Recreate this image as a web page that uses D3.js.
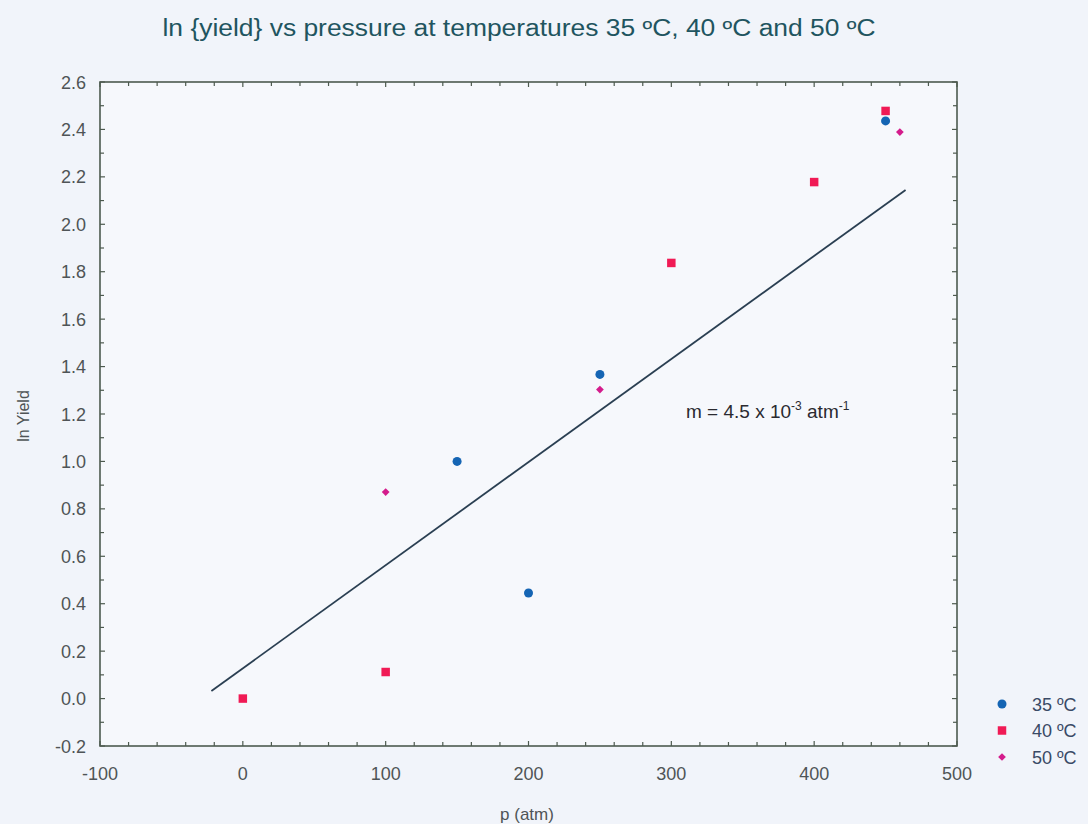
<!DOCTYPE html>
<html>
<head>
<meta charset="utf-8">
<script src="https://cdn.jsdelivr.net/npm/d3@7"></script>
<style>
  body { margin: 0; background: #f1f4fa; }
  svg { display: block; font-family: "Liberation Sans", Arial, sans-serif; }
</style>
</head>
<body>
<svg id="chart" width="1088" height="824"></svg>
<script>
// data
var p35 = [150, 200, 250, 450];
var y35 = [1.00, 0.445, 1.367, 2.436];
var p40 = [0, 100, 300, 400, 450];
var y40 = [0.00, 0.112, 1.837, 2.178, 2.478];
var p50 = [100, 250, 460];
var y50 = [0.871, 1.303, 2.389];
var fitX = [-22, 464];
var fitY = [0.032, 2.145];
var xTicks = [-100, 0, 100, 200, 300, 400, 500];
var yTicks = [-0.2, 0.0, 0.2, 0.4, 0.6, 0.8, 1.0, 1.2, 1.4, 1.6, 1.8, 2.0, 2.2, 2.4, 2.6];
var seriesNames = ["35 ºC", "40 ºC", "50 ºC"];

var svg = d3.select("#chart");
var plotL = 100, plotR = 957, plotT = 82, plotB = 746;

var x = d3.scaleLinear().domain([-100, 500]).range([plotL, plotR]);
var y = d3.scaleLinear().domain([-0.2, 2.6]).range([plotB, plotT]);

var frameColor = "#4d5a4f";
var labelColor = "#4f5456";

// frame
svg.append("rect")
  .attr("x", plotL).attr("y", plotT)
  .attr("width", plotR - plotL).attr("height", plotB - plotT)
  .attr("fill", "#f6f8fc")
  .attr("stroke", frameColor).attr("stroke-width", 1.6);

// ticks on all 4 sides, pointing inward
var xMinor = d3.range(-100, 501, 20);
var yMinor = d3.range(-2, 27).map(d => d / 10);
var tk = svg.append("g").attr("stroke", frameColor).attr("stroke-width", 1.2);
xMinor.forEach(v => {
  var len = (v % 100 === 0) ? 5 : 4;
  tk.append("line").attr("x1", x(v)).attr("x2", x(v)).attr("y1", plotB).attr("y2", plotB - len);
  tk.append("line").attr("x1", x(v)).attr("x2", x(v)).attr("y1", plotT).attr("y2", plotT + len);
});
yMinor.forEach(v => {
  var len = (Math.round(v * 10) % 2 === 0) ? 5 : 4;
  tk.append("line").attr("y1", y(v)).attr("y2", y(v)).attr("x1", plotL).attr("x2", plotL + len);
  tk.append("line").attr("y1", y(v)).attr("y2", y(v)).attr("x1", plotR).attr("x2", plotR - len);
});

// tick labels
svg.append("g").selectAll("text").data(yTicks).enter().append("text")
  .attr("x", 86).attr("y", d => y(d) + 6.5)
  .attr("text-anchor", "end").attr("font-size", 18).attr("fill", labelColor)
  .text(d => d3.format(".1f")(d).replace("−", "-"));
svg.append("g").selectAll("text").data(xTicks).enter().append("text")
  .attr("x", d => x(d)).attr("y", 780)
  .attr("text-anchor", "middle").attr("font-size", 18).attr("fill", labelColor)
  .text(d => d);

// axis titles
svg.append("text")
  .attr("transform", "translate(29,416) rotate(-90)")
  .attr("text-anchor", "middle").attr("font-size", 16).attr("fill", labelColor)
  .text("ln Yield");
svg.append("text")
  .attr("x", 527).attr("y", 820)
  .attr("text-anchor", "middle").attr("font-size", 17).attr("fill", labelColor)
  .text("p (atm)");

// title
svg.append("text")
  .attr("x", 519).attr("y", 36)
  .attr("text-anchor", "middle").attr("font-size", 23).attr("fill", "#1f5560")
  .attr("textLength", 713).attr("lengthAdjust", "spacingAndGlyphs")
  .text("ln {yield} vs pressure at temperatures 35 ºC, 40 ºC and 50 ºC");

// fit line
svg.append("path")
  .datum(d3.zip(fitX, fitY))
  .attr("fill", "none").attr("stroke", "#2a3f52").attr("stroke-width", 1.8)
  .attr("d", d3.line().x(d => x(d[0])).y(d => y(d[1])));

// slope annotation
var ann = svg.append("text")
  .attr("x", 686).attr("y", 418)
  .attr("font-size", 19).attr("fill", "#2a2a30");
ann.append("tspan").text("m = 4.5 x 10");
ann.append("tspan").attr("dy", -8).attr("font-size", 12).text("-3");
ann.append("tspan").attr("dy", 8).text(" atm");
ann.append("tspan").attr("dy", -8).attr("font-size", 12).text("-1");

// markers
var colors = ["#1565b4", "#f01a55", "#d41c8c"];
var circle = d3.symbol().type(d3.symbolCircle).size(64);
var square = d3.symbol().type(d3.symbolSquare).size(72);
var diamond = d3.symbol().type(d3.symbolSquare).size(30);
var shapes = [circle, square, diamond];
var rot = [0, 0, 45];

function plotSeries(px, py, i) {
  svg.append("g").selectAll("path")
    .data(d3.zip(px, py)).enter().append("path")
    .attr("transform", d => "translate(" + x(d[0]) + "," + y(d[1]) + ") rotate(" + rot[i] + ")")
    .attr("d", shapes[i]())
    .attr("fill", colors[i]);
}
plotSeries(p35, y35, 0);
plotSeries(p40, y40, 1);
plotSeries(p50, y50, 2);

// legend
var lg = svg.append("g");
seriesNames.forEach((name, i) => {
  var ly = 704 + i * 26.5;
  lg.append("path")
    .attr("transform", "translate(1002," + ly + ") rotate(" + rot[i] + ")")
    .attr("d", shapes[i]()).attr("fill", colors[i]);
  lg.append("text")
    .attr("x", 1032).attr("y", ly + 6.5)
    .attr("font-size", 18).attr("fill", "#3a4a66")
    .text(name);
});
</script>
</body>
</html>
